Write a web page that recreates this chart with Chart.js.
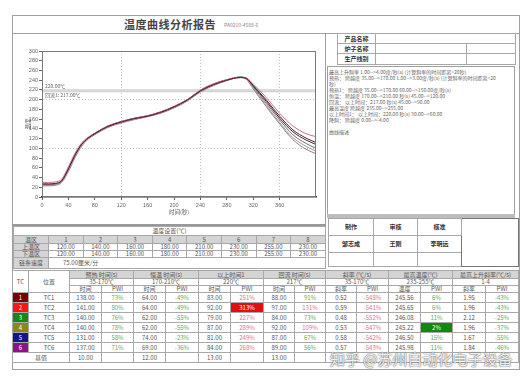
<!DOCTYPE html>
<html>
<head>
<meta charset="utf-8">
<script src="https://cdn.jsdelivr.net/npm/chart.js@4.4.0/dist/chart.umd.min.js"></script>
<style>
body { margin: 0; background: #fff; font-family: "Noto Sans CJK SC", "Liberation Sans", sans-serif; color: #444; }
#page { position: relative; width: 528px; height: 381px; overflow: hidden; }
.abs { position: absolute; box-sizing: border-box; }
table { border-collapse: collapse; table-layout: fixed; }
td { border: 1px solid #a8a8a8; padding: 0; text-align: center; font-size: 6px; line-height: 1; overflow: hidden; white-space: nowrap; color: #555; }
.gray { background: #d4d4d4; }
.bold { font-weight: bold; color: #333; }
.info div { font-size: 5px; line-height: 6px; white-space: nowrap; color: #666; }
</style>
</head>
<body>
<div id="page">
    <!-- outer frame and title -->
    <div class="abs" style="left:12px;top:15px;width:508px;height:355px;border:1px solid #a0a0a0;"></div>
    <div class="abs" style="left:12px;top:33px;width:508px;height:1px;background:#a0a0a0;"></div>
    <div class="abs" style="left:124px;top:16px;font-size:11px;font-weight:bold;color:#444;letter-spacing:0.5px;">温度曲线分析报告</div>
    <div class="abs" style="left:224px;top:21px;font-size:5px;color:#888;">PA0210-4588-6</div>

    <!-- chart panel -->
    <div class="abs" style="left:12px;top:33px;width:314px;height:193px;border:1px solid #a0a0a0;border-bottom:2px solid #999;"></div>
    <div class="abs" style="left:13px;top:34px;width:311px;height:190px;">
        <canvas id="curveChart" width="311" height="190"></canvas>
    </div>

    <!-- right panel -->
    <table class="abs" style="left:337px;top:33px;width:178px;">
        <colgroup><col style="width:38px"><col style="width:91px"><col style="width:49px"></colgroup>
        <tr style="height:10px"><td class="bold">产品名称</td><td colspan="2"></td></tr>
        <tr style="height:10px"><td class="bold">炉子名称</td><td></td><td></td></tr>
        <tr style="height:11px"><td class="bold">生产线别</td><td></td><td></td></tr>
    </table>
    <div class="abs info" id="infoBox" style="left:327px;top:66px;width:188px;height:149px;border:1px solid #a0a0a0;padding:2px 1px;"></div>
    <div class="abs" style="left:327px;top:214px;width:188px;height:4px;background:#bdbdbd;"></div>
    <table class="abs" style="left:328px;top:218px;width:190px;">
        <colgroup><col style="width:45px"><col style="width:44px"><col style="width:44px"><col style="width:57px"></colgroup>
        <tr style="height:17px"><td class="bold">制作</td><td class="bold">审核</td><td class="bold">核准</td><td rowspan="3" style="border:1px solid #777;"></td></tr>
        <tr style="height:17px"><td class="bold">邹志成</td><td class="bold">王刚</td><td class="bold">李明远</td></tr>
        <tr style="height:14px"><td></td><td></td><td></td></tr>
    </table>

    <!-- settings table -->
    <table class="abs" id="zoneTable" style="left:13px;top:226px;width:312px;"></table>

    <!-- TC table -->
    <table class="abs" id="tcTable" style="left:12px;top:270px;width:506px;"></table>

    <div class="abs" style="left:330px;top:348px;font-size:15px;color:rgba(255,255,255,0.92);text-shadow:0 0 1px #555,0 0 2px #777;white-space:nowrap;">知乎 @苏州自动化电子设备</div>
</div>

<script>
// curve data, seconds / degrees C
const times = [0, 10, 20, 30, 40, 50, 60, 70, 80, 100, 120, 140, 160, 180, 200, 220, 240, 260, 280, 300, 310, 320, 340, 360, 380, 400, 415];
const tc1 = [27, 27, 28, 34, 58, 86, 108, 121, 130, 145, 154, 161, 166, 174, 185, 199, 218, 231, 240, 245.56, 243, 228, 196, 162, 134, 117, 108];
const tc2 = [30, 30, 31, 37, 62, 90, 111, 123, 131, 146, 155, 162, 167, 175, 186, 200, 220, 233, 241, 245.65, 244, 232, 204, 172, 146, 130, 124];
const tc3 = [24, 24, 25, 31, 54, 83, 106, 120, 129, 144, 153, 160, 166, 173, 184, 198, 217, 230, 240, 246.08, 242, 224, 188, 153, 122, 104, 94];
const tc4 = [26, 26, 27, 32, 56, 85, 107, 121, 130, 145, 154, 161, 166, 174, 185, 199, 218, 231, 240, 245.22, 243, 226, 192, 158, 128, 110, 100];
const tc5 = [25, 25, 26, 33, 57, 86, 108, 122, 131, 146, 155, 162, 167, 175, 186, 200, 219, 232, 241, 246.5, 244, 229, 199, 166, 138, 121, 112];
const tc6 = [23, 23, 24, 30, 52, 81, 104, 119, 128, 143, 152, 159, 165, 172, 183, 197, 216, 229, 239, 245.98, 241, 222, 185, 150, 118, 98, 89];
const seriesNames = ['TC1', 'TC2', 'TC3', 'TC4', 'TC5', 'TC6'];
const refLevels = [220, 217];
const refLabels = ['220.00℃', '回流1: 217.00℃'];
const gridMarksX = [120, 240, 360];
const gridMarksY = [100, 200];

// zone settings
const zoneNumbers = [1, 2, 3, 4, 5, 6, 7, 8];
const upperZone = [120, 140, 160, 180, 210, 230, 255, 230];
const lowerZone = [120, 140, 160, 180, 210, 230, 255, 230];
const chainSpeed = '75.00厘米/分';

// result table
const groupNames = ['预热 时间(s)', '恒温 时间(s)', '以上时间1', '回流 时间(s)', '斜率 (℃/s)', '最高温度(℃)', '最高上升斜率(℃/s)'];
const groupRanges = ['35-170℃', '170-210℃', '220℃', '217℃', '35-170℃', '235-255℃', '1-4'];
const groupSubs = ['时间', '时间', '时间', '时间', '斜率', '温度', '斜率'];
const preheatTime = [138, 141, 140, 140, 131, 137];
const preheatPwi = [73, 80, 76, 78, 58, 71];
const soakTime = [64, 64, 62, 62, 74, 69];
const soakPwi = [-49, -49, -55, -55, -23, -36];
const aboveTime = [83, 92, 79, 87, 81, 84];
const abovePwi = [251, 313, 227, 289, 249, 268];
const reflowTime = [88, 97, 84, 92, 87, 89];
const reflowPwi = [91, 131, 73, 109, 67, 56];
const slopeValue = [0.52, 0.59, 0.48, 0.53, 0.58, 0.57];
const slopePwi = [-548, -541, -552, -547, -542, -543];
const peakTemp = [245.56, 245.65, 246.08, 245.22, 246.50, 245.98];
const peakPwi = [6, 6, 11, 2, 15, 11];
const riseSlope = [1.95, 1.96, 2.12, 1.96, 1.67, 1.84];
const risePwi = [-43, -43, -25, -37, -55, -46];
const baseValues = ['10.00', '12.00', '13.00', '13.00', '', '', ''];

const infoLines = [
    '最高上升斜率  1.00-->4.00度/秒(s) (计算斜率的时间距离=20秒)',
    '预热：    跨越度 35.00-->170.00 1.00-->3.00度/秒(s) (计算斜率的时间距离=20',
    '秒)',
    '预热1：   跨越度 35.00-->170.00 60.00-->150.00度/秒(s)',
    '恒温：    跨越度 170.00-->210.00 秒(s) 45.00-->120.00',
    '回流：    以上时间：217.00 秒(s) 45.00-->90.00',
    '最高温度     跨越度 235.00-->255.00',
    '以上时间1：  以上时间：220.00 秒(s) 30.00-->60.00',
    '降斜：    跨越度 0.00-->-4.00',
    '',
    '曲线描述'
];

const lineColors = ['#5c1a24', '#d66a84', '#9c9c9c', '#707070', '#2c2a48', '#a07890'];
const tcColors = ['#7a0000', '#ff1414', '#138a13', '#8a8a10', '#14148c', '#8a148a'];

function fillInfo() {
    const box = document.getElementById('infoBox');
    infoLines.forEach(t => {
        const d = document.createElement('div');
        d.textContent = t || '\u00a0';
        box.appendChild(d);
    });
}

function buildZoneTable() {
    const t = document.getElementById('zoneTable');
    let html = '<colgroup><col style="width:35px">' + zoneNumbers.map(() => '<col style="width:34.6px">').join('') + '</colgroup>';
    html += '<tr style="height:9px"><td colspan="9">温度设置(℃)</td></tr>';
    html += '<tr style="height:8px" class="gray"><td>温区</td>' + zoneNumbers.map(n => `<td>${n}</td>`).join('') + '</tr>';
    html += '<tr style="height:7px"><td class="gray">上温区</td>' + upperZone.map(v => `<td>${v.toFixed(2)}</td>`).join('') + '</tr>';
    html += '<tr style="height:7px"><td class="gray">下温区</td>' + lowerZone.map(v => `<td>${v.toFixed(2)}</td>`).join('') + '</tr>';
    html += `<tr style="height:11px"><td class="gray">链条速度</td><td colspan="8" style="text-align:left;padding-left:14px;">${chainSpeed}</td></tr>`;
    t.innerHTML = html;
}

function pwiCell(v, highlight) {
    if (highlight) return `<td style="background:${highlight};color:#fff;">${v}%</td>`;
    const color = Math.abs(v) >= 100 ? '#e4708c' : '#5aad5a';
    return `<td style="color:${color};">${v}%</td>`;
}

function buildTcTable() {
    const t = document.getElementById('tcTable');
    const groupWidths = [64, 65, 65, 62, 63, 64, 66];
    let html = '<colgroup><col style="width:16px"><col style="width:41px">';
    groupWidths.forEach(w => {
        html += `<col style="width:${Math.floor(w / 2)}px"><col style="width:${Math.ceil(w / 2)}px">`;
    });
    html += '</colgroup>';

    html += '<tr style="height:8px"><td rowspan="3">TC</td><td rowspan="3">位置</td>' +
        groupNames.map(g => `<td colspan="2" class="gray">${g}</td>`).join('') + '</tr>';
    html += '<tr style="height:7px">' + groupRanges.map(r => `<td colspan="2">${r}</td>`).join('') + '</tr>';
    html += '<tr style="height:7px">' + groupSubs.map(s => `<td>${s}</td><td>PWI</td>`).join('') + '</tr>';

    seriesNames.forEach((name, i) => {
        html += '<tr style="height:10px">';
        html += `<td style="background:${tcColors[i]};color:#fff;">${i + 1}</td><td>${name}</td>`;
        html += `<td>${preheatTime[i].toFixed(2)}</td>` + pwiCell(preheatPwi[i]);
        html += `<td>${soakTime[i].toFixed(2)}</td>` + pwiCell(soakPwi[i]);
        html += `<td>${aboveTime[i].toFixed(2)}</td>` + pwiCell(abovePwi[i], i === 1 ? '#e01010' : null);
        html += `<td>${reflowTime[i].toFixed(2)}</td>` + pwiCell(reflowPwi[i]);
        html += `<td>${slopeValue[i].toFixed(2)}</td>` + pwiCell(slopePwi[i]);
        html += `<td>${peakTemp[i].toFixed(2)}</td>` + pwiCell(peakPwi[i], i === 3 ? '#0f8a0f' : null);
        html += `<td>${riseSlope[i].toFixed(2)}</td>` + pwiCell(risePwi[i]);
        html += '</tr>';
    });

    html += '<tr style="height:10px"><td colspan="2">基值</td>' +
        baseValues.map(v => `<td>${v}</td><td></td>`).join('') + '</tr>';
    t.innerHTML = html;
}

const plotFrame = {
    id: 'plotFrame',
    afterDraw(chart) {
        const { ctx, chartArea: a } = chart;
        ctx.save();
        ctx.strokeStyle = '#7a7a7a';
        ctx.lineWidth = 1;
        ctx.strokeRect(a.left + 0.5, a.top + 0.5, a.width - 1, a.height - 1);
        ctx.restore();
    }
};

const refLinePlugin = {
    id: 'refLines',
    beforeDatasetsDraw(chart) {
        const { ctx, chartArea: a, scales } = chart;
        ctx.save();
        ctx.strokeStyle = '#d2d2d2';
        ctx.lineWidth = 1.5;
        refLevels.forEach(v => {
            const py = scales.y.getPixelForValue(v);
            ctx.beginPath();
            ctx.moveTo(a.left, py);
            ctx.lineTo(a.right, py);
            ctx.stroke();
        });
        ctx.fillStyle = '#666';
        ctx.font = '5px "Noto Sans CJK SC", sans-serif';
        ctx.textBaseline = 'middle';
        ctx.fillText(refLabels[0], a.left + 3, scales.y.getPixelForValue(refLevels[0]) - 4);
        ctx.fillText(refLabels[1], a.left + 3, scales.y.getPixelForValue(refLevels[1]) + 4);
        ctx.restore();
    }
};

function drawCurves() {
    const ctx = document.getElementById('curveChart');
    const allSeries = [tc1, tc2, tc3, tc4, tc5, tc6];
    new Chart(ctx, {
        type: 'line',
        data: {
            datasets: allSeries.map((vals, i) => ({
                label: seriesNames[i],
                data: times.map((t, k) => ({ x: t, y: vals[k] })),
                borderColor: lineColors[i],
                borderWidth: 1,
                pointRadius: 0,
                cubicInterpolationMode: 'monotone',
                fill: false
            }))
        },
        options: {
            responsive: false,
            animation: false,
            layout: { padding: { top: 17, right: 8, left: 0, bottom: 0 } },
            plugins: { legend: { display: false }, tooltip: { enabled: false } },
            scales: {
                x: {
                    type: 'linear',
                    min: 0,
                    max: 415,
                    afterBuildTicks: s => { s.ticks = s.ticks.filter(t => t.value % 40 === 0); },
                    ticks: {
                        stepSize: 40,
                        autoSkip: false,
                        maxRotation: 0,
                        padding: 2,
                        color: '#666',
                        font: { size: 5.5, family: 'Liberation Sans' }
                    },
                    grid: {
                        color: c => gridMarksX.includes(c.tick && c.tick.value) ? '#bdbdbd' : 'rgba(0,0,0,0)',
                        tickColor: '#666',
                        tickLength: 3,
                        lineWidth: 1
                    },
                    border: { color: '#333', width: 1.5, dash: [1, 2] },
                    title: {
                        display: true,
                        text: '时间(秒)',
                        color: '#555',
                        font: { size: 5.5, family: 'Noto Sans CJK SC' },
                        padding: { top: 0, bottom: 9 }
                    },
                    afterFit: s => { s.height = 27; }
                },
                y: {
                    min: 0,
                    max: 300,
                    ticks: {
                        stepSize: 20,
                        autoSkip: false,
                        padding: 1,
                        color: '#666',
                        font: { size: 5.5, family: 'Liberation Sans' }
                    },
                    grid: {
                        color: c => gridMarksY.includes(c.tick && c.tick.value) ? '#bdbdbd' : 'rgba(0,0,0,0)',
                        tickColor: '#666',
                        tickLength: 3,
                        lineWidth: 1
                    },
                    border: { color: '#555', width: 1, dash: [1, 2] },
                    title: {
                        display: true,
                        text: '温度',
                        color: '#555',
                        font: { size: 5.5, family: 'Noto Sans CJK SC' },
                        padding: { top: 12, bottom: 0 }
                    },
                    afterFit: s => { s.width = 29; }
                }
            }
        },
        plugins: [refLinePlugin, plotFrame]
    });
}

document.addEventListener('DOMContentLoaded', () => {
    fillInfo();
    buildZoneTable();
    buildTcTable();
    drawCurves();
});
</script>
</body>
</html>
